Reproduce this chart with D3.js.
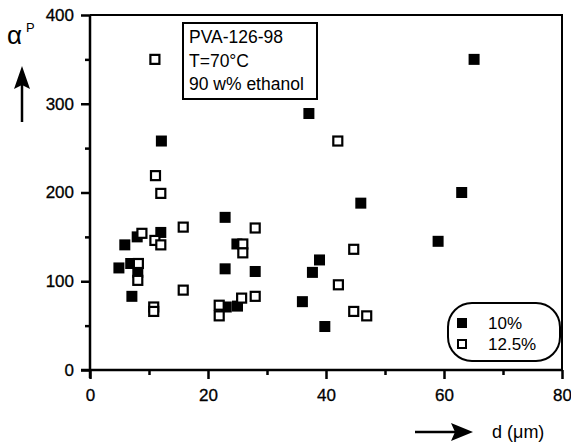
<!DOCTYPE html>
<html>
<head>
<meta charset="utf-8">
<script src="https://cdn.jsdelivr.net/npm/d3@7"></script>
<style>
  body { margin: 0; background: #fff; }
  svg { display: block; font-family: "Liberation Sans", Arial, sans-serif; }
</style>
</head>
<body>
<div id="chart"></div>
<script>
// 10% series: [d (um), alpha]
const filled10 = [
  [4.9, 115], [5.9, 141], [6.9, 120], [7.1, 83], [8.0, 150], [8.1, 110],
  [12.0, 155], [12.1, 258], [22.9, 172], [22.9, 114], [23.1, 71], [24.9, 142],
  [25.0, 72], [28.0, 111], [36.0, 77], [37.1, 289], [37.7, 110], [38.9, 124],
  [39.8, 49], [45.9, 188], [59.0, 145], [63.0, 200], [65.1, 350]
];
// 12.5% series
const open125 = [
  [8.8, 154], [11.0, 146], [12.0, 141], [15.8, 161], [8.2, 120], [8.1, 101],
  [15.8, 90], [10.8, 71], [10.8, 66], [11.0, 350], [11.1, 219], [12.0, 199],
  [28.0, 160], [25.9, 142], [25.9, 132], [28.0, 83], [25.7, 81], [21.9, 73],
  [21.9, 61], [42.0, 258], [44.7, 136], [42.1, 96], [44.7, 66], [46.9, 61]
];
const xTicks = [0, 20, 40, 60, 80];
const xMinor = [10, 30, 50, 70];
const yTicks = [0, 100, 200, 300, 400];
const yMinor = [50, 150, 250, 350];
const infoLines = ["PVA-126-98", "T=70°C", "90 w% ethanol"];
const legendLabels = ["10%", "12.5%"];

const width = 571, height = 445;
const svg = d3.select("#chart").append("svg")
  .attr("width", width).attr("height", height);

const x = d3.scaleLinear().domain([0, 80]).range([90, 562]);
const y = d3.scaleLinear().domain([0, 400]).range([370, 15]);

// frame (top and right)
svg.append("path")
  .attr("d", `M${x(0)},${y(400)}H${x(80)}V${y(0)}`)
  .attr("fill", "none").attr("stroke", "#000").attr("stroke-width", 2);

// y axis
svg.append("g").attr("transform", `translate(${x(0)},0)`)
  .call(d3.axisLeft(y).tickValues(yTicks).tickSize(9).tickPadding(7));
svg.append("g").attr("transform", `translate(${x(0)},0)`)
  .call(d3.axisLeft(y).tickValues(yMinor).tickSize(5).tickFormat(""));

// x axis
svg.append("g").attr("transform", `translate(0,${y(0)})`)
  .call(d3.axisBottom(x).tickValues(xTicks).tickSize(9).tickPadding(10));
svg.append("g").attr("transform", `translate(0,${y(0)})`)
  .call(d3.axisBottom(x).tickValues(xMinor).tickSize(5).tickFormat(""));

svg.selectAll(".domain").remove();
svg.selectAll(".tick line").attr("stroke-width", 2.5);
svg.selectAll(".tick text").attr("font-size", 17).attr("fill", "#000")
  .attr("stroke", "#000").attr("stroke-width", 0.3)
  .attr("font-family", "Liberation Sans, Arial, sans-serif");

// axis lines drawn explicitly so they overshoot like the original
svg.append("line").attr("x1", x(0)).attr("x2", x(0)).attr("y1", y(400)).attr("y2", y(0) + 8)
  .attr("stroke", "#000").attr("stroke-width", 2.5);
svg.append("line").attr("x1", x(0) - 9).attr("x2", x(80)).attr("y1", y(0)).attr("y2", y(0))
  .attr("stroke", "#000").attr("stroke-width", 2.5);

// points
const plot = svg.append("g");
plot.selectAll(".f").data(filled10).join("rect")
  .attr("class", "f")
  .attr("x", d => x(d[0]) - 5.5).attr("y", d => y(d[1]) - 5.5)
  .attr("width", 11).attr("height", 11).attr("fill", "#000");
plot.selectAll(".o").data(open125).join("rect")
  .attr("class", "o")
  .attr("x", d => x(d[0]) - 4.5).attr("y", d => y(d[1]) - 4.5)
  .attr("width", 9).attr("height", 9)
  .attr("fill", "#fff").attr("stroke", "#000").attr("stroke-width", 2.2);

// info box
const info = svg.append("g");
info.append("rect").attr("x", 183).attr("y", 23).attr("width", 134).attr("height", 76)
  .attr("fill", "#fff").attr("stroke", "#000").attr("stroke-width", 2);
info.selectAll("text").data(infoLines).join("text")
  .attr("x", 189).attr("y", (d, i) => 43 + i * 23.5)
  .attr("font-size", 17.5).text(d => d);

// legend
const leg = svg.append("g");
leg.append("rect").attr("x", 448).attr("y", 303).attr("width", 112).attr("height", 58)
  .attr("rx", 24).attr("ry", 24)
  .attr("fill", "#fff").attr("stroke", "#000").attr("stroke-width", 2);
leg.append("rect").attr("x", 457).attr("y", 318).attr("width", 10).attr("height", 10).attr("fill", "#000");
leg.append("rect").attr("x", 458).attr("y", 340).attr("width", 8).attr("height", 8)
  .attr("fill", "#fff").attr("stroke", "#000").attr("stroke-width", 2);
leg.selectAll("text").data(legendLabels).join("text")
  .attr("x", 488).attr("y", (d, i) => 329 + i * 21)
  .attr("font-size", 17).text(d => d);

// y label: alpha^P with up arrow
const yl = svg.append("g");
yl.append("text").attr("x", 7).attr("y", 44).attr("font-size", 26).text("α");
yl.append("text").attr("x", 26).attr("y", 32).attr("font-size", 13).text("P");
yl.append("line").attr("x1", 22).attr("x2", 22).attr("y1", 84).attr("y2", 122)
  .attr("stroke", "#000").attr("stroke-width", 2.5);
yl.append("path").attr("d", "M22,66 L30,89 L22,85 L14,89 Z").attr("fill", "#000");

// x label: arrow then d (um)
const xl = svg.append("g");
xl.append("line").attr("x1", 415).attr("x2", 458).attr("y1", 432).attr("y2", 432)
  .attr("stroke", "#000").attr("stroke-width", 2.5);
xl.append("path").attr("d", "M473,432 L451,423 L455,432 L451,441 Z").attr("fill", "#000");
xl.append("text").attr("x", 492).attr("y", 438).attr("font-size", 18).text("d (μm)");
</script>
</body>
</html>
